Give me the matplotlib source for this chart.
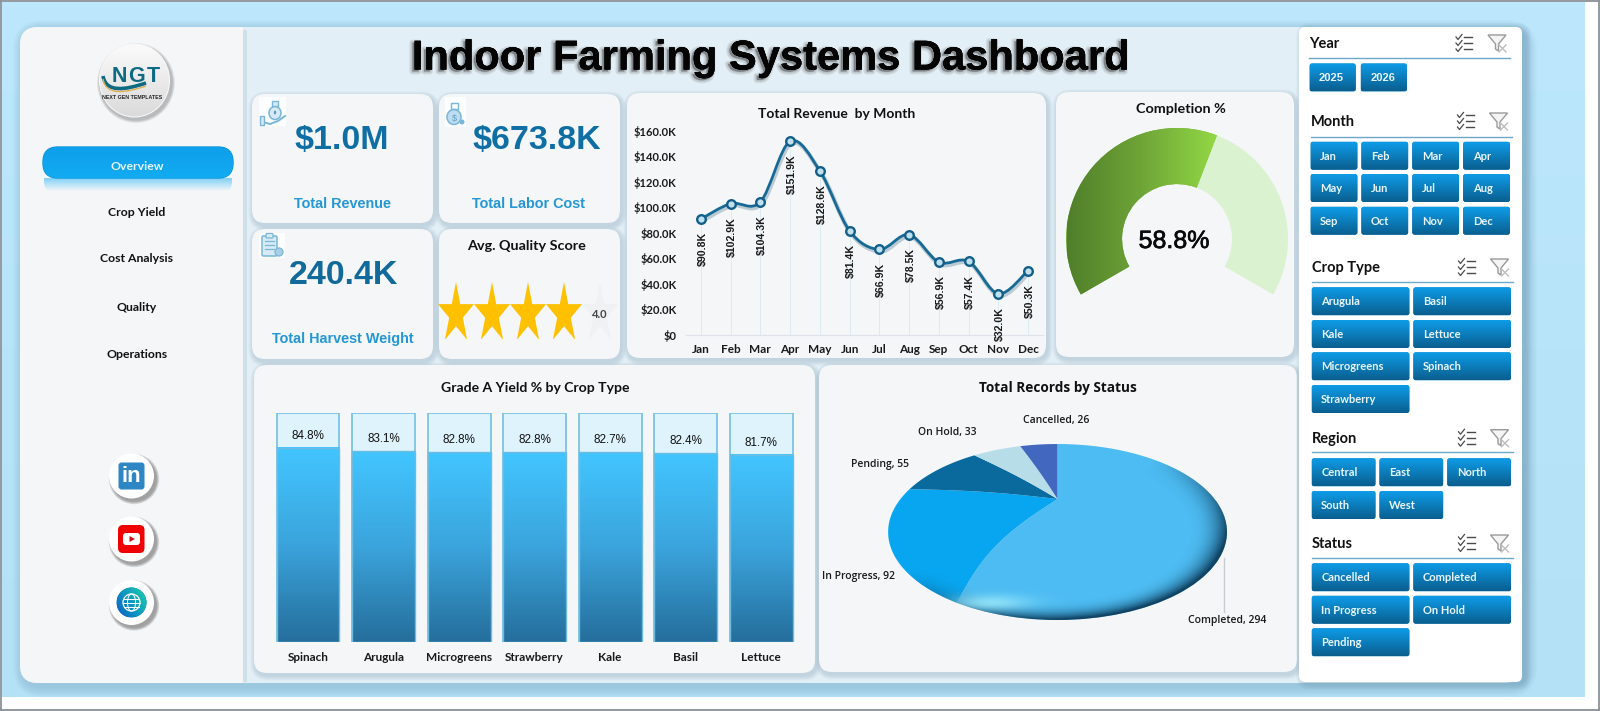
import numpy as np
import matplotlib
matplotlib.use("Agg")
import matplotlib.pyplot as plt
import matplotlib.patheffects as pe
from matplotlib.colors import LinearSegmentedColormap, to_rgb
from matplotlib.patches import FancyBboxPatch, Circle, Ellipse, Polygon, Rectangle, PathPatch
from matplotlib.path import Path

# ---------- data ----------
MONTHS = ["Jan", "Feb", "Mar", "Apr", "May", "Jun", "Jul", "Aug", "Sep", "Oct", "Nov", "Dec"]
REVENUE_K = [90.8, 102.9, 104.3, 151.9, 128.6, 81.4, 66.9, 78.5, 56.9, 57.4, 32.0, 50.3]
CROPS_RANKED = ["Spinach", "Arugula", "Microgreens", "Strawberry", "Kale", "Basil", "Lettuce"]
GRADE_A_YIELD = [84.8, 83.1, 82.8, 82.8, 82.7, 82.4, 81.7]
STATUSES = ["Completed", "In Progress", "Pending", "On Hold", "Cancelled"]
STATUS_COUNTS = [294, 92, 55, 33, 26]
COMPLETION_PCT = 58.8
QUALITY_SCORE = 4.0
KPI_REVENUE = "$1.0M"
KPI_LABOR = "$673.8K"
KPI_HARVEST = "240.4K"
NAV_ITEMS = ["Overview", "Crop Yield", "Cost Analysis", "Quality", "Operations"]
YEARS = ["2025", "2026"]
CROPS_SORTED = ["Arugula", "Basil", "Kale", "Lettuce", "Microgreens", "Spinach", "Strawberry"]
REGIONS = ["Central", "East", "North", "South", "West"]
STATUS_SORTED = ["Cancelled", "Completed", "In Progress", "On Hold", "Pending"]

W, H = 1600, 711
LABEL_FONT = ["Lato", "DejaVu Sans"]
NUM_FONT = ["Liberation Sans", "DejaVu Sans"]
PIE_FONT = ["Open Sans", "DejaVu Sans"]
CARD = "#F4F6F8"
plt.rcParams["font.family"] = LABEL_FONT

fig = plt.figure(figsize=(W / 100, H / 100), dpi=100, facecolor="white")
bg = fig.add_axes([0, 0, 1, 1])
bg.set_xlim(0, W)
bg.set_ylim(H, 0)
bg.axis("off")
bg.set_autoscale_on(False)


def px_axes(x0, y0, x1, y1, z=5):
    a = fig.add_axes([x0 / W, 1 - y1 / H, (x1 - x0) / W, (y1 - y0) / H], zorder=z)
    a.patch.set_alpha(0)
    return a


def rrect(x0, y0, x1, y1, r, ax=bg, **kw):
    p = FancyBboxPatch((x0 + r, y0 + r), x1 - x0 - 2 * r, y1 - y0 - 2 * r,
                       boxstyle=f"round,pad={r},rounding_size={r}", **kw)
    ax.add_patch(p)
    return p


def shadow(x0, y0, x1, y1, r, dx=1.5, dy=2.5, blur=5, color="#7F9FB2", strength=0.07, ax=bg, z=2):
    for k in range(blur, 0, -1):
        rrect(x0 + dx - k, y0 + dy - k, x1 + dx + k, y1 + dy + k, r + k, ax=ax,
              fc=color, ec="none", alpha=strength, zorder=z)


def vgrad(a, x0, y0, x1, y1, top, bottom, clip=None, z=3, horizontal=False):
    cm = LinearSegmentedColormap.from_list("g", [top, bottom])
    g = np.linspace(0, 1, 128)
    g = g.reshape(1, -1) if horizontal else g.reshape(-1, 1)
    im = a.imshow(g, cmap=cm, vmin=0, vmax=1, extent=(x0, x1, y1, y0), aspect="auto",
                  interpolation="bilinear", zorder=z)
    if clip is not None:
        im.set_clip_path(clip)
    return im


def card(x0, y0, x1, y1, r=13):
    shadow(x0, y0, x1, y1, r)
    rrect(x0, y0, x1, y1, r, fc=CARD, ec="none", zorder=3)


def label(x, y, s, size=9, color="#111111", weight="bold", family=LABEL_FONT, ha="center", z=8, ax=bg, **kw):
    return ax.text(x, y, s, fontsize=size, color=color, fontweight=weight, family=family,
                   ha=ha, va="center", zorder=z, **kw)


# ---------- page background ----------
bg.add_patch(Rectangle((0, 0), W, H, fc="white", ec="none", zorder=0))
vgrad(bg, 2, 2, 1585, 697, "#BCE7FC", "#B4E1F6", z=0.5)
shadow(20, 27, 1524, 684, 20, dx=3, dy=3, blur=10, color="#6E9BB5", strength=0.035, z=1)
rrect(20, 27, 1522, 683, 18, fc="#E3EFF6", ec="none", zorder=1.5)
for (a, b, c, d) in [(0.8, 0.8, W - 0.8, 0.8), (0.8, H - 0.8, W - 0.8, H - 0.8),
                     (0.8, 0.8, 0.8, H - 0.8), (W - 0.8, 0.8, W - 0.8, H - 0.8)]:
    bg.plot([a, c], [b, d], color="#8A9197", lw=1.3, zorder=20)

# ---------- sidebar ----------
bg.add_patch(Rectangle((242, 30), 5, 652, fc="#CFE0EA", ec="none", zorder=1.6))
side = rrect(20, 27, 300, 683, 18, fc=CARD, ec="none", zorder=1.7)
side_clip = Rectangle((0, 0), 243, H, transform=bg.transData)
side.set_clip_path(side_clip)

# logo
for k in range(6, 0, -1):
    bg.add_patch(Ellipse((136, 83), 72 + k, 74 + k, fc="#555555", ec="none", alpha=0.07, zorder=3))
logo = Ellipse((134.5, 80.5), 69, 72, fc="#E8E8E8", ec="#F8F8F8", lw=1.5, zorder=3.5)
bg.add_patch(logo)
vgrad(bg, 99, 44, 170, 117, "#FBFBFB", "#DADADA", clip=logo, z=3.6)
for ch, lx in zip("NGT", (119, 136.5, 153)):
    label(lx, 76.5, ch, size=15.5, color="#0E6A82", family=NUM_FONT, z=5)
wave = np.array([[103, 76], [106, 93], [125, 90], [146, 83]])
for col, dy, lw in [("#0E6A82", 0, 2.6), ("#E0AE55", 3, 1.0)]:
    v = wave + [0, dy]
    bg.add_patch(PathPatch(Path(v, [Path.MOVETO, Path.CURVE4, Path.CURVE4, Path.CURVE4]),
                           fc="none", ec=col, lw=lw, zorder=4.5))
label(132, 97.5, "NEXT GEN TEMPLATES", size=3.8, color="#222222", family=NUM_FONT, z=5)

# navigation
glow = rrect(44, 170, 232, 192, 10, fc="none", ec="none", zorder=3)
vgrad(bg, 44, 178, 232, 191, "#7FD0F6", CARD, clip=glow, z=3)
pill = rrect(43, 147, 233, 178, 15, fc="#10A6EE", ec="#0C93D6", lw=1.0, zorder=4)
vgrad(bg, 43, 147, 233, 178, "#0E9FEA", "#12ABF2", clip=pill, z=4.1)
nav_y = [167, 212, 259, 307.5, 355]
for name, y, col in zip(NAV_ITEMS, nav_y, ["#E8F6FD"] + ["#111111"] * 4):
    label(137, y, name, size=8.8, color=col)

# social buttons
for y in (476, 539, 602.5):
    for k in range(4, 0, -1):
        bg.add_patch(Circle((134, y + 3), 22 + k * 0.8, fc="#333333", ec="none", alpha=0.13, zorder=3))
    bg.add_patch(Circle((131.5, y), 22.5, fc="white", ec="none", zorder=3.5))
rrect(118.5, 462.5, 144.5, 489.5, 3, fc="#2F86C5", ec="none", zorder=4)
label(131.5, 477, "in", size=16, color="white", family=NUM_FONT, z=5)
rrect(118, 525, 144.5, 553, 5, fc="#F00000", ec="none", zorder=4)
rrect(123, 533, 140, 545, 3, fc="white", ec="none", zorder=4.5)
bg.add_patch(Polygon([[129.5, 536], [129.5, 542], [135, 539]], fc="#D01010", ec="none", zorder=5))
globe = Circle((131.5, 602.5), 15, fc="#1570C4", ec="none", zorder=4)
bg.add_patch(globe)
gcm = LinearSegmentedColormap.from_list("g", ["#0B5FC4", "#0F9CC0", "#1BD4A8"])
yy, xx = np.mgrid[0:1:64j, 0:1:64j]
gim = bg.imshow(xx * 0.6 + (1 - yy) * 0.4, cmap=gcm, extent=(116.5, 146.5, 617.5, 587.5), aspect="auto", zorder=4.1)
gim.set_clip_path(globe)
bg.add_patch(Circle((131.5, 602.5), 8.5, fc="none", ec="white", lw=0.9, zorder=5))
bg.add_patch(Ellipse((131.5, 602.5), 8, 17, fc="none", ec="white", lw=0.7, zorder=5))
for oy, half in [(-4, 7.5), (0, 8.5), (4, 7.5)]:
    bg.plot([131.5 - half, 131.5 + half], [602.5 + oy] * 2, color="white", lw=0.7, zorder=5)

# ---------- title ----------
title = bg.text(771, 58.5, "Indoor Farming Systems Dashboard", fontsize=30, fontweight="bold",
                family=NUM_FONT, ha="center", va="center", color="#050505", zorder=8)
title.set_path_effects([pe.withStroke(linewidth=w, foreground="#6A6A6A", alpha=0.14, offset=(-1.6, -1.4))
                        for w in (4.5, 2.8, 1.2)] + [pe.Normal()])

# ---------- KPI cards ----------
card(252, 94, 433, 223)
card(439, 94, 620, 223)
card(252, 229, 433, 359)
card(439, 229, 620, 359)
label(342, 140, KPI_REVENUE, size=24.5, color="#0F6FA4", family=NUM_FONT)
label(537, 140, KPI_LABOR, size=24.5, color="#0F6FA4", family=NUM_FONT)
label(344, 276, KPI_HARVEST, size=24.5, color="#126A9A", family=NUM_FONT)
label(342, 204, "Total Revenue", size=10.4, color="#2597D4", family=NUM_FONT)
label(529, 204, "Total Labor Cost", size=10.4, color="#2597D4", family=NUM_FONT)
label(343, 339, "Total Harvest Weight", size=10.4, color="#2597D4", family=NUM_FONT)
label(527, 246, "Avg. Quality Score", size=10.4)

# KPI pictograms
ICON = "#79B6D8"
TINT = "#D8EAF5"
for x0, y0, x1, y1 in [(259, 97, 286, 126), (445, 97, 466, 127), (259, 233, 285, 258)]:
    bg.add_patch(Rectangle((x0, y0), x1 - x0, y1 - y0, fc="#FBFDFE", ec="none", zorder=4))
bg.add_patch(Ellipse((275, 113), 12, 13, fc=TINT, ec=ICON, lw=1.1, zorder=5))
bg.add_patch(Rectangle((272, 101), 6, 4.5, fc=TINT, ec=ICON, lw=1.0, zorder=5))
bg.add_patch(Ellipse((275, 112.5), 2.5, 4, fc="#5D9FC6", ec="none", zorder=6))
bg.plot([263, 270, 278, 285], [122, 124, 121, 116], color=ICON, lw=1.4, zorder=5)
bg.add_patch(Rectangle((260, 116), 4, 9, fc=TINT, ec=ICON, lw=1.0, zorder=5))
bg.add_patch(Ellipse((454, 117), 14, 15, fc="#BFDDEE", ec=ICON, lw=1.1, zorder=5))
bg.add_patch(Rectangle((450.5, 103), 7, 5.5, fc="none", ec=ICON, lw=1.0, zorder=5))
bg.add_patch(Circle((462, 122), 2.5, fc=ICON, ec="none", zorder=5))
label(454, 118, "$", size=6.5, color="#5D9FC6", weight="normal", family=NUM_FONT)
rrect(262, 236, 277, 256, 1.5, fc=TINT, ec=ICON, lw=1.1, zorder=5)
rrect(266, 233.5, 273, 238, 1, fc=TINT, ec=ICON, lw=0.9, zorder=5.5)
for yy_ in (241, 245, 249):
    bg.plot([265, 274], [yy_, yy_], color=ICON, lw=0.9, zorder=6)
bg.add_patch(Circle((279, 252), 4, fc="#A9CFE5", ec=ICON, lw=0.9, zorder=6))

# quality stars
STAR_UNIT = np.array([[np.sin(t) * (1 if i % 2 == 0 else 0.38), -np.cos(t) * (1 if i % 2 == 0 else 0.38)]
                      for i, t in enumerate(np.linspace(0, 2 * np.pi, 11)[:-1])])
for i in range(5):
    cx = 456 + i * 36
    pts = STAR_UNIT * [18.9, 32] + [cx, 314]
    filled = i < QUALITY_SCORE
    bg.add_patch(Polygon(pts, fc="#FFC000" if filled else "#F0F1F3", ec="none", zorder=5))
label(600, 314, f"{QUALITY_SCORE:.1f}", size=8, color="#444444", family=LABEL_FONT)

# ---------- revenue line ----------
card(627, 93, 1046, 358)
label(837, 114, "Total Revenue  by Month", size=10)
line_ax = px_axes(686, 131, 1043, 334.5)
x = np.arange(len(MONTHS))
y = np.array(REVENUE_K)
line_ax.set_xlim(-0.5, 11.5)
line_ax.set_ylim(0, 160)
line_ax.vlines(x, 0, y, color="#DCEAF2", lw=0.7, zorder=1)
pts = np.column_stack([x, y])
verts = [pts[0]]
codes = [Path.MOVETO]
for i in range(len(pts) - 1):
    prev_p = pts[max(i - 1, 0)]
    next_p = pts[min(i + 2, len(pts) - 1)]
    verts += [pts[i] + (pts[i + 1] - prev_p) / 6, pts[i + 1] - (next_p - pts[i]) / 6, pts[i + 1]]
    codes += [Path.CURVE4] * 3
curve = PathPatch(Path(verts, codes), fc="none", ec="#176A96", lw=2.0, zorder=3, capstyle="round")
curve.set_path_effects([pe.Stroke(linewidth=3.2, foreground="#557A8E", alpha=0.35, offset=(0.8, -1.4)), pe.Normal()])
line_ax.add_patch(curve)
line_ax.plot(x, y, ls="none", marker="o", ms=6.2, mfc="#BFE0EE", mec="#145F88", mew=1.7, zorder=4)
for xi, v in zip(x, y):
    line_ax.annotate(f"${v:.1f}K", (xi, v), xytext=(1.2, -9.6), textcoords="offset points", rotation=90,
                     ha="center", va="top", fontsize=7.6, fontweight="bold", family=NUM_FONT,
                     color="#1A1A1A", zorder=6, annotation_clip=False)
for s in ("top", "right", "left"):
    line_ax.spines[s].set_visible(False)
line_ax.spines["bottom"].set_color("#DDE3E8")
line_ax.set_xticks(x, MONTHS)
line_ax.set_yticks(np.arange(0, 161, 20), ["$0"] + [f"${v}.0K" for v in range(20, 161, 20)])
line_ax.tick_params(length=0, labelsize=8.0, labelcolor="#1A1A1A", pad=6.8, axis="y")
line_ax.tick_params(length=0, labelsize=8.5, labelcolor="#1A1A1A", pad=7, axis="x")
for t in line_ax.get_xticklabels() + line_ax.get_yticklabels():
    t.set_fontweight("bold")

# ---------- completion gauge ----------
card(1056, 92, 1294, 357)
label(1181, 109, "Completion %", size=10.4)
gauge_ax = px_axes(1177 - 111, 239 - 111, 1177 + 111, 239 + 111)
gauge_vals = [COMPLETION_PCT, 100 - COMPLETION_PCT, 50]
wedges, _ = gauge_ax.pie(gauge_vals, startangle=210, counterclock=False, radius=1,
                         colors=["#6FA83A", "#DAF2D0", "none"], wedgeprops=dict(width=0.505, ec="none"))
gauge_ax.set_xlim(-1, 1)
gauge_ax.set_ylim(-1, 1)
gauge_ax.set_aspect("auto")
green = LinearSegmentedColormap.from_list("green", ["#507F2A", "#6FA537", "#92D845"])
gim = gauge_ax.imshow(np.linspace(0, 1, 128).reshape(1, -1), cmap=green, extent=(-0.99, 0.36, -0.6, 1.0),
                      aspect="auto", zorder=3)
gim.set_clip_path(wedges[0])
gauge_ax.set_xlim(-1, 1)
gauge_ax.set_ylim(-1, 1)
pct = label(1174, 241, f"{COMPLETION_PCT:.1f}%", size=18, color="#0A0A0A", weight="normal", family=NUM_FONT, z=9)
pct.set_path_effects([pe.withStroke(linewidth=0.5, foreground="#0A0A0A")])

# ---------- grade A bars ----------
card(254, 365, 815, 673)
label(535, 388, "Grade A Yield % by Crop Type", size=10.1)
bar_ax = px_axes(270.3, 412.7, 799, 641.7)
bx = np.arange(len(CROPS_RANKED))
bv = np.array(GRADE_A_YIELD)
BW = 0.832
bar_ax.bar(bx, 100, width=BW, color="#DFF3FD", edgecolor="#7CC4E4", linewidth=1.3, zorder=1)
cmap_bar = LinearSegmentedColormap.from_list("bar", ["#256F9C", "#3BA4DC", "#42C5FF"])
for xi, v in zip(bx, bv):
    bar_ax.imshow(np.linspace(1, 0, 64).reshape(-1, 1), cmap=cmap_bar, vmin=0, vmax=1, aspect="auto",
                  extent=(xi - BW / 2, xi + BW / 2, 0, v), zorder=2)
    bar_ax.annotate(f"{v:.1f}%", (xi, v), xytext=(0, 8.6), textcoords="offset points", ha="center", va="center",
                    fontsize=8.4, family=NUM_FONT, color="#111111", zorder=4)
bar_ax.bar(bx, bv, width=BW, color="none", edgecolor="#6DBCE0", linewidth=1.0, zorder=3)
bar_ax.set_xlim(-0.5, 6.5)
bar_ax.set_ylim(0, 100)
for s in bar_ax.spines.values():
    s.set_visible(False)
bar_ax.set_yticks([])
bar_ax.set_xticks(bx, CROPS_RANKED)
bar_ax.tick_params(length=0, labelsize=8.5, labelcolor="#1A1A1A", pad=7.5)
for t in bar_ax.get_xticklabels():
    t.set_fontweight("bold")

# ---------- status pie ----------
card(819, 365, 1297, 672)
label(1058, 388, "Total Records by Status", size=9.8, family=PIE_FONT)
PX0, PY0, PX1, PY1 = 880, 436, 1236, 628
pie_ax = px_axes(PX0, PY0, PX1, PY1)
pie_ax.set_xlim(PX0, PX1)
pie_ax.set_ylim(PY1, PY0)
pie_ax.axis("off")
APEX = np.array([1057.5, 499.0])
ELLIPSE_C = (1057.5, 532.0)
ELLIPSE_A, ELLIPSE_B = 169.5, 88.0
TILT, SX, SY = 0.375, 157.0, 75.6


def warp(theta):
    """Pull the near side of the rim towards the front of the tilted disc."""
    return theta - 0.137 * np.maximum(0, -np.cos(theta))


def project(theta):
    """Perspective view of a rim point; theta runs clockwise from twelve o'clock."""
    t = warp(theta)
    u, v = np.sin(t), np.cos(t)
    d = 1 + TILT * v
    return np.column_stack([APEX[0] + SX * u / d, APEX[1] - SY * v / d])


def spoke(theta):
    """Apex-to-rim edge, bowed slightly clockwise as the domed face does."""
    rim = project(np.array([theta]))[0]
    s = np.linspace(0, 1, 30)[:, None]
    ahead = project(np.array([theta + 0.02]))[0] - rim
    ahead = ahead / (np.hypot(*ahead) + 1e-9)
    amp = 3 * abs(np.sin(theta)) + 13 * max(0, -np.cos(theta))
    return APEX + (rim - APEX) * s + ahead * amp * np.sin(np.pi * s)


slice_colors = ["#4DBCF2", "#08A6F0", "#0A6A9E", "#B7DDE9", "#4168BE"]
edges = np.concatenate([[0], np.cumsum(STATUS_COUNTS)]) / np.sum(STATUS_COUNTS) * 2 * np.pi
for a0, a1, col in zip(edges[:-1], edges[1:], slice_colors):
    rim_pts = project(np.linspace(a0, a1, 120))
    outline = np.vstack([spoke(a0), rim_pts, spoke(a1)[::-1]])
    pie_ax.add_patch(Polygon(outline, fc=col, ec="none", zorder=2))

# rim bevel on top of the slices
disc = Ellipse(ELLIPSE_C, 2 * ELLIPSE_A, 2 * ELLIPSE_B, fc="none", ec="none")
pie_ax.add_patch(disc)
gx, gy = np.meshgrid(np.linspace(PX0, PX1, 500), np.linspace(PY0, PY1, 300))
ex, ey = (gx - ELLIPSE_C[0]) / ELLIPSE_A, (gy - ELLIPSE_C[1]) / ELLIPSE_B
er = np.hypot(ex, ey) + 1e-6
nx, ny = ex / er, ey / er
bevel = np.clip((er - 0.76) / 0.24, 0, 1) ** 2.6
dark = np.zeros(gx.shape + (4,))
dark[..., :3] = to_rgb("#0A3654")
dark[..., 3] = np.clip(bevel * np.clip(0.22 + 0.62 * nx + 0.70 * ny, 0, 1) * 1.05, 0, 0.9)
im1 = pie_ax.imshow(dark, extent=(PX0, PX1, PY1, PY0), aspect="auto", zorder=3, interpolation="bilinear")
im1.set_clip_path(disc)
shine = np.zeros(gx.shape + (4,))
shine[..., :3] = to_rgb("#A4F0FF")
shine[..., 3] = 0.75 * np.exp(-((gx - 990) / 40) ** 2 - ((gy - 603) / 8) ** 2)
im2 = pie_ax.imshow(shine, extent=(PX0, PX1, PY1, PY0), aspect="auto", zorder=4, interpolation="bilinear")
im2.set_clip_path(disc)
pie_ax.set_xlim(PX0, PX1)
pie_ax.set_ylim(PY1, PY0)

bg.plot([1224, 1224], [558, 612], color="#C9CED2", lw=1.0, zorder=7)
pie_label_pos = [(1227, 620), (858, 577), (880, 464), (947, 433), (1056, 421)]
for name, n, (lx, ly) in zip(STATUSES, STATUS_COUNTS, pie_label_pos):
    label(lx, ly, f"{name}, {n}", size=7.5, color="#1A1A1A", weight="semibold", family=PIE_FONT)

# ---------- slicer panel ----------
shadow(1299, 27, 1522, 682, 8, dx=3, dy=2, blur=6, color="#557F99", strength=0.045, z=6)
rrect(1299, 27, 1522, 682, 6, fc="white", ec="none", zorder=6.5)


def slicer_icons(xc, yc):
    for k in range(3):
        yk = yc - 6 + k * 6
        bg.plot([xc - 7, xc - 5, xc - 1], [yk, yk + 2.5, yk - 2.5], color="#4A4A4A", lw=0.9, zorder=8)
        bg.plot([xc + 1, xc + 9], [yk, yk], color="#4A4A4A", lw=1.0, zorder=8)
    fx = xc + 34
    bg.add_patch(Polygon([[fx - 9, yc - 8], [fx + 9, yc - 8], [fx + 1.5, yc + 1], [fx + 1.5, yc + 8],
                          [fx - 1.5, yc + 6], [fx - 1.5, yc + 1]], fc="#F4F4F4", ec="#9A9A9A", lw=1.0, zorder=8))
    bg.plot([fx + 2, fx + 9], [yc + 2, yc + 9], color="#BDBDBD", lw=1.0, zorder=9)
    bg.plot([fx + 9, fx + 2], [yc + 2, yc + 9], color="#BDBDBD", lw=1.0, zorder=9)


def slicer(head, hx, hy, line_y, items, cols, x0, x1, row_y, gap=4, btn_h=28, text_font=LABEL_FONT):
    label(hx, hy + 1, head, size=10.5, color="#111111", ha="left", family=LABEL_FONT, z=8)
    bg.plot([hx, hx + 201], [line_y, line_y], color="#6BA7C8", lw=1.0, zorder=8)
    slicer_icons(hx + 154, hy)
    bw = (x1 - x0 - gap * (cols - 1)) / cols
    for n, it in enumerate(items):
        c, r = n % cols, n // cols
        bx0 = x0 + c * (bw + gap)
        by0 = row_y[r]
        b = rrect(bx0, by0, bx0 + bw, by0 + btn_h, 2.5, fc="#0E7FBF", ec="none", zorder=7)
        vgrad(bg, bx0, by0, bx0 + bw, by0 + btn_h, "#0E9CE8", "#0A5E8E", clip=b, z=7.1)
        label(bx0 + 9.5, by0 + btn_h / 2 + 0.5, it, size=8, color="#E9F5FB", ha="left", family=text_font, z=8)


slicer("Year", 1309, 43, 58, YEARS, 2, 1309.5, 1407, [63.5], gap=5, text_font=NUM_FONT)
slicer("Month", 1310.5, 121, 136.5, MONTHS, 4, 1310.5, 1510, [141.7, 174, 206.7])
slicer("Crop Type", 1311.5, 267, 282, CROPS_SORTED, 2, 1311.7, 1511, [287.3, 320, 352.3, 385])
slicer("Region", 1311.5, 437.7, 452.3, REGIONS, 3, 1311.7, 1511, [458.3, 491])
slicer("Status", 1311.5, 543, 557.7, STATUS_SORTED, 2, 1311.7, 1511, [563.3, 595.7, 628.3])

fig.savefig("out.png", dpi=100)
